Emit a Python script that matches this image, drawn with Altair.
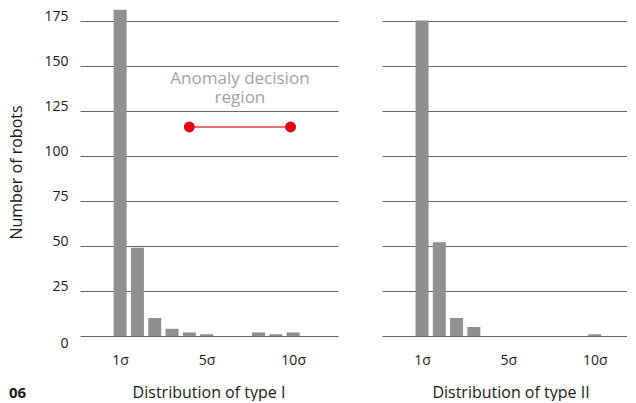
import altair as alt
import pandas as pd

# ---- data ----
bin_index = [1, 2, 3, 4, 5, 6, 7, 8, 9, 10, 11]
counts_type1 = [181, 49, 10, 4, 2, 1, 0, 0, 2, 1, 2]
counts_type2 = [175, 52, 10, 5, 0, 0, 0, 0, 0, 0, 1]
tick_positions = [1, 6, 11]
tick_labels = ["1σ", "5σ", "10σ"]
y_ticks = [0, 25, 50, 75, 100, 125, 150, 175]
region_x = [5.0, 10.85]
region_y = [116, 116]
region_label = ["Anomaly decision", "region"]
panel_titles = ["Distribution of type I", "Distribution of type II"]
figure_number = "06"

FONT = "Open Sans"
BAR = "#8f908f"
RED = "#e3000f"
INK = "#1a1a1a"
H = 328
W_LEFT = 258
W_RIGHT = 245
PX_PER_BIN = 18
X0 = -1.03
Y_DOMAIN = [0, 182]
TITLE_GAP = 57

label_map = "{" + ",".join(f"'{p}':'{l}'" for p, l in zip(tick_positions, tick_labels)) + "}"
label_expr = f"{label_map}[datum.value]"

df1 = pd.DataFrame({"bin": bin_index, "count": counts_type1})
df2 = pd.DataFrame({"bin": bin_index, "count": counts_type2})
df_region = pd.DataFrame({"bin": region_x, "count": region_y})
df_label = pd.DataFrame({"bin": [sum(region_x) / 2], "count": [142.5], "t": [region_label]})


def x_enc(width):
    return alt.X(
        "bin:Q",
        scale=alt.Scale(domain=[X0, X0 + width / PX_PER_BIN], nice=False, zero=False),
        axis=alt.Axis(values=tick_positions, labelExpr=label_expr, grid=False,
                      ticks=False, domain=False, labelPadding=17, title=None),
    )


def y_enc(show):
    if show:
        ax = alt.Axis(values=y_ticks, grid=True, ticks=False, domain=False,
                      labelPadding=12, title="Number of robots", titlePadding=19,
                      labelBaseline={"condition": {"test": "datum.value == 0", "value": "top"},
                                     "value": "alphabetic"})
    else:
        ax = alt.Axis(values=y_ticks, grid=True, ticks=False, domain=False,
                      labels=False, title=None)
    return alt.Y("count:Q", scale=alt.Scale(domain=Y_DOMAIN, nice=False), axis=ax)


def bottom_text(text, x_px, align, size, weight):
    return alt.Chart(pd.DataFrame({"t": [text]})).mark_text(
        font=FONT, fontSize=size, fontWeight=weight, align=align,
        baseline="middle", color=INK
    ).encode(x=alt.value(x_px), y=alt.value(H + TITLE_GAP), text="t:N")


bars1 = alt.Chart(df1).mark_bar(size=13, color=BAR, clip=False).encode(
    x=x_enc(W_LEFT), y=y_enc(True)
)
line = alt.Chart(df_region).mark_line(color="#ee3a45", strokeWidth=1.5).encode(
    x="bin:Q", y="count:Q"
)
dots = alt.Chart(df_region).mark_circle(size=120, color=RED, opacity=1).encode(
    x="bin:Q", y="count:Q"
)
label = alt.Chart(df_label).mark_text(
    color="#a3a3a3", fontSize=17, font=FONT, align="center", baseline="middle",
    lineHeight=19
).encode(x="bin:Q", y="count:Q", text="t")

left = alt.layer(
    bars1, line, dots, label,
    bottom_text(panel_titles[0], W_LEFT / 2, "center", 16, "normal"),
    bottom_text(figure_number, -71, "left", 15, "bold"),
).properties(width=W_LEFT, height=H)

bars2 = alt.Chart(df2).mark_bar(size=13, color=BAR, clip=False).encode(
    x=x_enc(W_RIGHT), y=y_enc(False)
)
right = alt.layer(
    bars2,
    bottom_text(panel_titles[1], 258 / 2, "center", 16, "normal"),
).properties(width=W_RIGHT, height=H)

chart = (
    alt.hconcat(left, right, spacing=44)
    .properties(padding=0)
    .configure(font=FONT)
    .configure_view(stroke=None)
    .configure_axis(
        labelFont=FONT, titleFont=FONT, labelFontSize=14, titleFontSize=16,
        labelColor=INK, titleColor=INK, titleFontWeight="normal",
        gridColor="#666666", gridWidth=1,
    )
)

chart.save("out.html", embed_options={"renderer": "svg", "actions": False})
